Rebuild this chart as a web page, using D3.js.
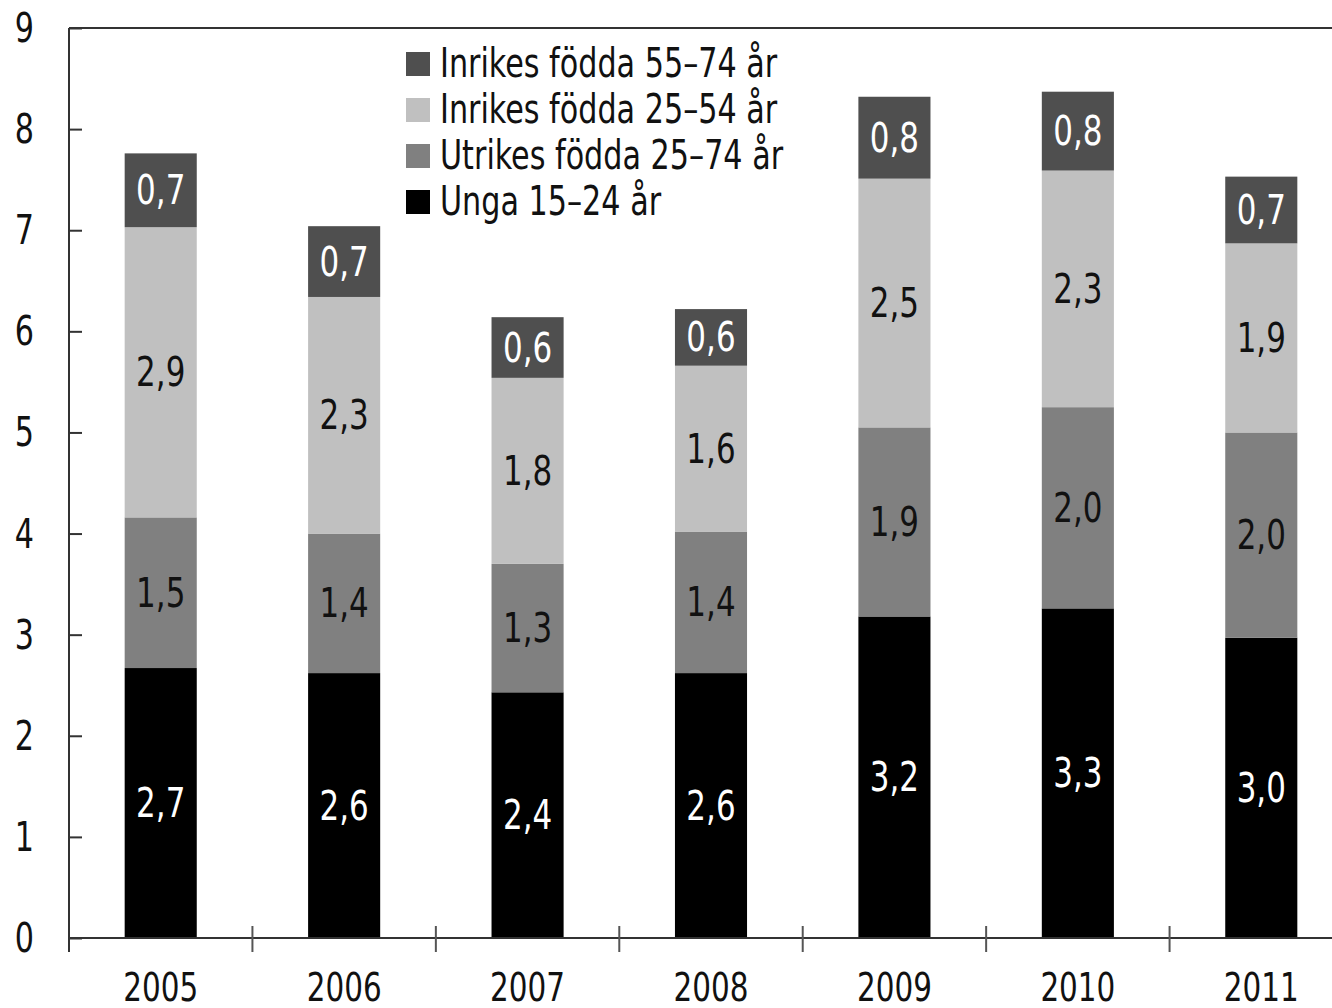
<!DOCTYPE html>
<html>
<head>
<meta charset="utf-8">
<title>Stacked bars</title>
<script src="https://cdnjs.cloudflare.com/ajax/libs/d3/7.8.5/d3.min.js"></script>
<style>
body { margin: 0; padding: 0; background: #fff; overflow: hidden; }
text { font-family: "Liberation Sans Narrow", "DejaVu Sans Condensed", "DejaVu Sans", sans-serif; font-stretch: condensed; }
</style>
</head>
<body>
<svg id="chart" width="1332" height="1008"></svg>
<script>
// values (percent)
var years = ["2005", "2006", "2007", "2008", "2009", "2010", "2011"];
var unga = [2.67, 2.62, 2.43, 2.62, 3.18, 3.26, 2.97];
var utrikes = [1.49, 1.38, 1.27, 1.40, 1.87, 1.99, 2.03];
var inrikes2554 = [2.87, 2.34, 1.84, 1.64, 2.46, 2.34, 1.87];
var inrikes5574 = [0.73, 0.70, 0.60, 0.56, 0.81, 0.78, 0.66];
var yTicks = [0, 1, 2, 3, 4, 5, 6, 7, 8, 9];

var seriesKeys = ["unga", "utrikes", "in2554", "in5574"];
var seriesNames = {
    unga: "Unga 15–24 år",
    utrikes: "Utrikes födda 25–74 år",
    in2554: "Inrikes födda 25–54 år",
    in5574: "Inrikes födda 55–74 år"
};
var colors = { unga: "#000000", utrikes: "#808080", in2554: "#c0c0c0", in5574: "#4f4f4f" };
var labelColors = { unga: "#ffffff", utrikes: "#111111", in2554: "#111111", in5574: "#ffffff" };

(function() {
    var rows = years.map(function(y, i) {
        return { year: y, unga: unga[i], utrikes: utrikes[i], in2554: inrikes2554[i], in5574: inrikes5574[i] };
    });

    var svg = d3.select("#chart");
    var left = 69, plotTop = 28, bottom = 938;
    var squeeze = 0.84; // the original face is narrower than what we have

    // move x/y into a transform so the glyphs can be narrowed in place
    function condense(sel) {
        sel.each(function() {
            var t = d3.select(this);
            var tx = +t.attr("x") || 0, ty = +t.attr("y") || 0;
            t.attr("x", 0).attr("y", 0)
                .attr("transform", "translate(" + tx + "," + ty + ") scale(" + squeeze + ",1)");
        });
    }

    var x = d3.scaleBand().domain(years).range([left, 1353]).paddingInner(0.607).paddingOuter(0.3035);
    var y = d3.scaleLinear().domain([0, 9]).range([bottom, plotTop]);

    var stacked = d3.stack().keys(seriesKeys)(rows);

    var fmt = function(v) { return v.toFixed(1).replace(".", ","); };

    // bars
    var layers = svg.append("g").selectAll("g")
        .data(stacked).enter().append("g")
        .attr("fill", function(d) { return colors[d.key]; });

    layers.selectAll("rect")
        .data(function(d) { return d; }).enter().append("rect")
        .attr("x", function(d) { return x(d.data.year); })
        .attr("width", x.bandwidth())
        .attr("y", function(d) { return y(d[1]); })
        .attr("height", function(d) { return y(d[0]) - y(d[1]); });

    // segment labels
    stacked.forEach(function(layer) {
        svg.append("g").selectAll("text")
            .data(layer).enter().append("text")
            .attr("x", function(d) { return x(d.data.year) + x.bandwidth() / 2; })
            .attr("y", function(d) { return (y(d[0]) + y(d[1])) / 2; })
            .attr("text-anchor", "middle")
            .attr("dominant-baseline", "central")
            .style("font-size", "41px")
            .attr("fill", labelColors[layer.key])
            .text(function(d) { return fmt(d[1] - d[0]); })
            .call(condense);
    });

    // y axis, ticks pointing inward
    var yAxis = svg.append("g")
        .attr("transform", "translate(" + left + ",0)")
        .call(d3.axisLeft(y).tickValues(yTicks).tickSize(-13).tickSizeOuter(0).tickPadding(35).tickFormat(d3.format("d")));
    yAxis.select(".domain").remove();
    yAxis.selectAll(".tick line").attr("stroke", "#333").attr("stroke-width", 2);
    yAxis.selectAll(".tick text").style("font-size", "40px").attr("fill", "#111")
        .attr("dy", null).attr("dominant-baseline", "central").call(condense);

    // frame: left line, top line
    svg.append("line").attr("x1", left).attr("x2", left).attr("y1", plotTop).attr("y2", bottom + 14)
        .attr("stroke", "#333").attr("stroke-width", 2);
    svg.append("line").attr("x1", left).attr("x2", 1332).attr("y1", plotTop).attr("y2", plotTop)
        .attr("stroke", "#333").attr("stroke-width", 2);

    // x axis
    var xAxis = svg.append("g")
        .attr("transform", "translate(0," + bottom + ")")
        .call(d3.axisBottom(x).tickSize(0).tickPadding(35));
    xAxis.select(".domain").remove();
    xAxis.selectAll(".tick text").style("font-size", "39px").attr("fill", "#111").call(condense);
    svg.append("line").attr("x1", left).attr("x2", 1332).attr("y1", bottom).attr("y2", bottom)
        .attr("stroke", "#333").attr("stroke-width", 2);

    // category separators on the x axis
    svg.append("g").selectAll("line")
        .data(years.slice(1)).enter().append("line")
        .attr("x1", function(d) { return x(d) - x.step() * x.paddingInner() / 2; })
        .attr("x2", function(d) { return x(d) - x.step() * x.paddingInner() / 2; })
        .attr("y1", bottom - 12).attr("y2", bottom + 14)
        .attr("stroke", "#555").attr("stroke-width", 2);

    // legend
    var legendOrder = ["in5574", "in2554", "utrikes", "unga"];
    var legend = svg.append("g").selectAll("g")
        .data(legendOrder).enter().append("g")
        .attr("transform", function(d, i) { return "translate(406," + (63 + i * 46) + ")"; });
    legend.append("rect")
        .attr("x", 0).attr("y", -11).attr("width", 24).attr("height", 24)
        .attr("fill", function(d) { return colors[d]; });
    legend.append("text")
        .attr("x", 34).attr("y", 0)
        .attr("dominant-baseline", "central")
        .style("font-size", "40px")
        .attr("fill", "#111")
        .text(function(d) { return seriesNames[d]; })
        .call(condense);
})();
</script>
</body>
</html>
